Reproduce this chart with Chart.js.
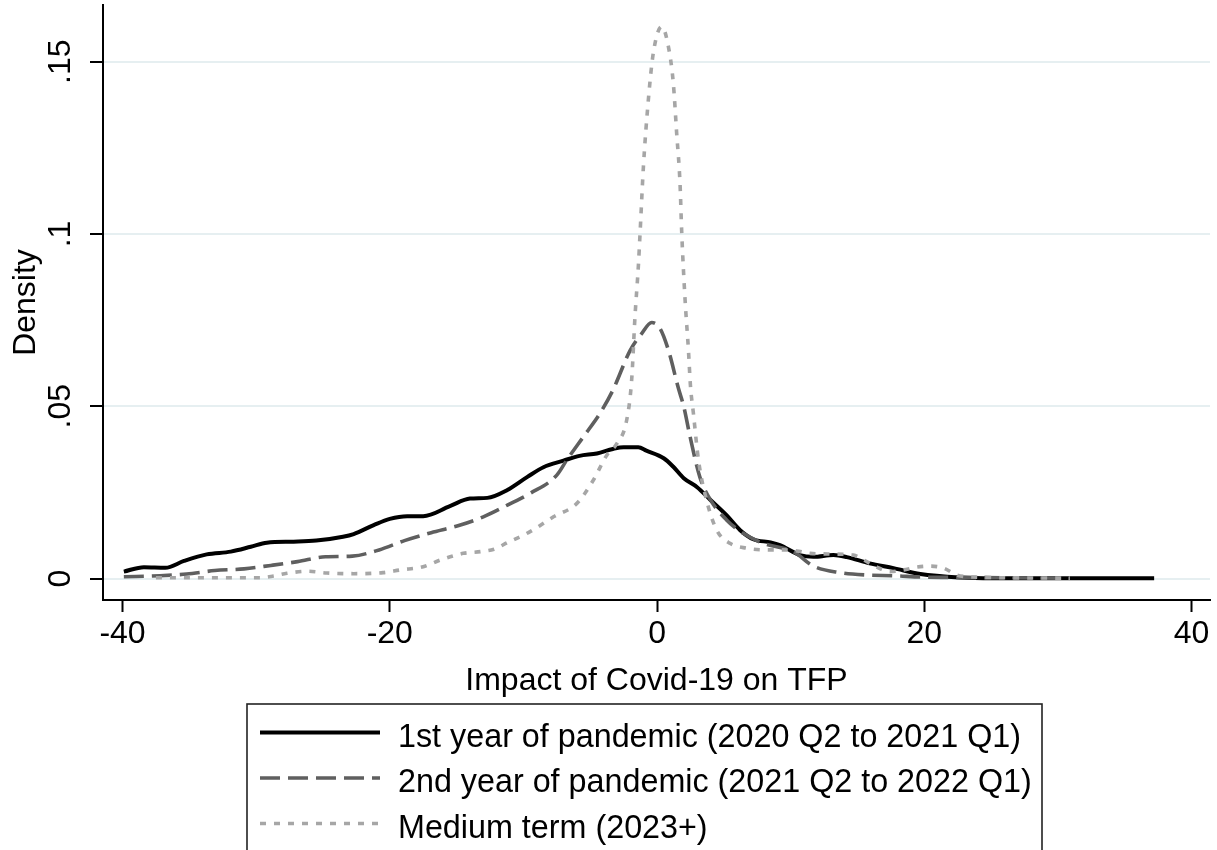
<!DOCTYPE html>
<html>
<head>
<meta charset="utf-8">
<script src="https://cdn.jsdelivr.net/npm/chart.js@4.4.1/dist/chart.umd.min.js"></script>
<style>
  html, body { margin: 0; padding: 0; background: #fff; }
  body { width: 1217px; height: 850px; overflow: hidden; position: relative; }
  #wrap { position: absolute; left: 0; top: 0; width: 1217px; height: 850px; }
  #legend { position: absolute; left: 0; top: 0; pointer-events: none; }
</style>
</head>
<body>
<div id="wrap"><canvas id="c" width="1217" height="850"></canvas></div>
<svg id="legend" width="1217" height="850" xmlns="http://www.w3.org/2000/svg"></svg>
<script>
// ---- data ----
const seriesNames = [
  "1st year of pandemic (2020 Q2 to 2021 Q1)",
  "2nd year of pandemic (2021 Q2 to 2022 Q1)",
  "Medium term (2023+)"
];
const xTitle = "Impact of Covid-19 on TFP";
const yTitle = "Density";
const xTicks = [-40, -20, 0, 20, 40];
const xTickLabels = ["-40", "-20", "0", "20", "40"];
const yTicks = [0, 0.05, 0.1, 0.15];
const yTickLabels = ["0", ".05", ".1", ".15"];

const firstYearX = [-39.9, -38.4, -36.8, -35.4, -33.7, -31.9, -30.4, -29.2, -27.2, -25.5, -23.5, -22.7, -21.2, -20.0, -18.7, -17.5, -15.5, -14.0, -12.7, -11.2, -9.7, -8.5, -7.0, -5.8, -4.5, -3.3, -2.5, -1.4, -0.8, 0.5, 1.2, 2.0, 3.0, 4.0, 5.2, 6.2, 7.2, 8.5, 9.2, 10.7, 11.7, 13.2, 14.2, 15.9, 17.7, 19.7, 22.7, 25.1, 30.0, 37.2];
const firstYearY = [0.0020, 0.0033, 0.0031, 0.0051, 0.0070, 0.0078, 0.0092, 0.0104, 0.0107, 0.0110, 0.0121, 0.0129, 0.0155, 0.0173, 0.0181, 0.0181, 0.0210, 0.0232, 0.0234, 0.0257, 0.0295, 0.0323, 0.0342, 0.0356, 0.0363, 0.0376, 0.0381, 0.0381, 0.0371, 0.0349, 0.0325, 0.0291, 0.0265, 0.0228, 0.0184, 0.0141, 0.0114, 0.0105, 0.0097, 0.0068, 0.0063, 0.0068, 0.0062, 0.0044, 0.0030, 0.0013, 0.0003, 0.0001, 0.0001, 0.0001];

const secondYearX = [-39.9, -37.2, -35.2, -33.1, -30.9, -28.9, -26.9, -24.8, -22.8, -20.8, -18.9, -16.9, -14.9, -13.0, -11.2, -9.5, -7.5, -6.75, -5.5, -4.26, -3.3, -2.0, -1.15, -0.4, 0.22, 0.85, 1.6, 2.0, 2.47, 3.2, 4.0, 5.2, 6.45, 7.95, 10.2, 11.7, 13.7, 15.7, 17.7, 19.9, 22.7, 30.9];
const secondYearY = [0.0005, 0.0008, 0.0013, 0.0023, 0.0028, 0.0038, 0.0049, 0.0063, 0.0065, 0.0083, 0.0110, 0.0133, 0.0153, 0.0179, 0.0213, 0.0247, 0.0300, 0.0344, 0.0412, 0.0480, 0.0547, 0.0663, 0.0711, 0.0743, 0.0726, 0.0663, 0.0552, 0.0499, 0.0412, 0.0295, 0.0228, 0.0170, 0.0131, 0.0102, 0.0078, 0.0036, 0.0017, 0.0010, 0.0008, 0.0004, 0.0003, 0.0001];

const mediumTermX = [-37.5, -35.2, -31.7, -29.7, -28.7, -27.7, -26.2, -24.7, -22.7, -20.5, -19.2, -17.5, -16.2, -14.5, -13.2, -12.2, -11.2, -9.5, -7.75, -6.0, -4.76, -3.76, -3.0, -2.27, -1.9, -1.65, -1.4, -1.27, -1.02, -0.65, -0.28, 0.35, 0.85, 1.22, 1.47, 1.72, 1.85, 2.1, 2.35, 2.5, 2.72, 3.1, 3.7, 4.46, 5.46, 6.7, 8.2, 9.45, 10.45, 11.45, 13.2, 14.7, 15.45, 16.45, 17.45, 18.45, 19.45, 20.45, 21.45, 22.45, 23.9, 30.9];
const mediumTermY = [0.0002, 0.0002, 0.0002, 0.0002, 0.0007, 0.0015, 0.0021, 0.0016, 0.0014, 0.0017, 0.0025, 0.0034, 0.0054, 0.0073, 0.0078, 0.0085, 0.0104, 0.0136, 0.0179, 0.0218, 0.0286, 0.0358, 0.0392, 0.0460, 0.0576, 0.0760, 0.0905, 0.1002, 0.1195, 0.1389, 0.1525, 0.1602, 0.1544, 0.1437, 0.1292, 0.1147, 0.1002, 0.0808, 0.0663, 0.0560, 0.0480, 0.0344, 0.0228, 0.0141, 0.0102, 0.0088, 0.0083, 0.0083, 0.0080, 0.0073, 0.0071, 0.0068, 0.0054, 0.0033, 0.0020, 0.0025, 0.0033, 0.0036, 0.0030, 0.0010, 0.0004, 0.0001];

// ---- styles ----
const FONT = '"Liberation Sans", Arial, Helvetica, sans-serif';
const colors = ['#000000', '#5f5f5f', '#a6a6a6'];
const widths = [4, 3.6, 3.6];
const dashes = [[], [20, 8], [6, 8]];

function pts(xs, ys) { return xs.map((x, i) => ({ x: x, y: ys[i] })); }
const seriesData = [pts(firstYearX, firstYearY), pts(secondYearX, secondYearY), pts(mediumTermX, mediumTermY)];

const textPlugin = {
  id: 'stataText',
  afterDraw(chart) {
    const ctx = chart.ctx, xs = chart.scales.x, ys = chart.scales.y, ca = chart.chartArea;
    ctx.save();
    ctx.fillStyle = '#000';
    ctx.font = '32px ' + FONT;
    ctx.textAlign = 'center';
    ctx.textBaseline = 'alphabetic';
    xTicks.forEach((v, i) => ctx.fillText(xTickLabels[i], xs.getPixelForValue(v), 643));
    ctx.fillText(xTitle, (ca.left + ca.right) / 2, 690);
    yTicks.forEach((v, i) => {
      ctx.save();
      ctx.translate(70, ys.getPixelForValue(v));
      ctx.rotate(-Math.PI / 2);
      ctx.fillText(yTickLabels[i], 0, 0);
      ctx.restore();
    });
    ctx.save();
    ctx.translate(35, (ca.top + ca.bottom) / 2);
    ctx.rotate(-Math.PI / 2);
    ctx.fillText(yTitle, 0, 0);
    ctx.restore();
    ctx.restore();
  }
};

new Chart(document.getElementById('c'), {
  type: 'line',
  data: {
    datasets: seriesNames.map((n, i) => ({
      label: n,
      data: seriesData[i],
      borderColor: colors[i],
      borderWidth: widths[i],
      borderDash: dashes[i],
      borderCapStyle: 'butt',
      pointRadius: 0,
      fill: false,
      cubicInterpolationMode: 'monotone',
      order: 3 - i
    }))
  },
  options: {
    responsive: false,
    animation: false,
    events: [],
    layout: { padding: { left: 0, right: 7, top: 5, bottom: 0 } },
    plugins: { legend: { display: false }, tooltip: { enabled: false }, title: { display: false } },
    scales: {
      x: {
        type: 'linear',
        min: -41.46, max: 41.38,
        afterBuildTicks: s => { s.ticks = xTicks.map(v => ({ value: v })); },
        afterFit: s => { s.height = 250; },
        ticks: { display: false },
        grid: { drawOnChartArea: false, drawTicks: true, tickLength: 12, tickWidth: 2, tickColor: '#000' },
        border: { display: true, color: '#000', width: 2 }
      },
      y: {
        type: 'linear',
        min: -0.00624, max: 0.16646,
        afterBuildTicks: s => { s.ticks = yTicks.map(v => ({ value: v })); },
        afterFit: s => { s.width = 103; },
        ticks: { display: false },
        grid: { color: '#e6eff1', lineWidth: 2, drawTicks: true, tickLength: 13, tickWidth: 2, tickColor: '#000' },
        border: { display: true, color: '#000', width: 2 }
      }
    }
  },
  plugins: [textPlugin]
});

// ---- legend (SVG, real text) ----
(function () {
  const svg = document.getElementById('legend');
  const NS = 'http://www.w3.org/2000/svg';
  const rect = document.createElementNS(NS, 'rect');
  rect.setAttribute('x', 247); rect.setAttribute('y', 704);
  rect.setAttribute('width', 795); rect.setAttribute('height', 220);
  rect.setAttribute('fill', 'none'); rect.setAttribute('stroke', '#222'); rect.setAttribute('stroke-width', 1.6);
  svg.appendChild(rect);
  const rowY = [732.5, 778, 823.5];
  seriesNames.forEach((n, i) => {
    const ln = document.createElementNS(NS, 'line');
    ln.setAttribute('x1', 260); ln.setAttribute('x2', 380);
    ln.setAttribute('y1', rowY[i]); ln.setAttribute('y2', rowY[i]);
    ln.setAttribute('stroke', colors[i]); ln.setAttribute('stroke-width', widths[i]);
    if (dashes[i].length) ln.setAttribute('stroke-dasharray', dashes[i].join(' '));
    svg.appendChild(ln);
    const t = document.createElementNS(NS, 'text');
    t.setAttribute('x', 398); t.setAttribute('y', rowY[i] + 14);
    t.setAttribute('font-family', FONT.replace(/"/g, "'")); t.setAttribute('font-size', 32.3);
    t.setAttribute('fill', '#000');
    t.textContent = n;
    svg.appendChild(t);
  });
})();
</script>
</body>
</html>
